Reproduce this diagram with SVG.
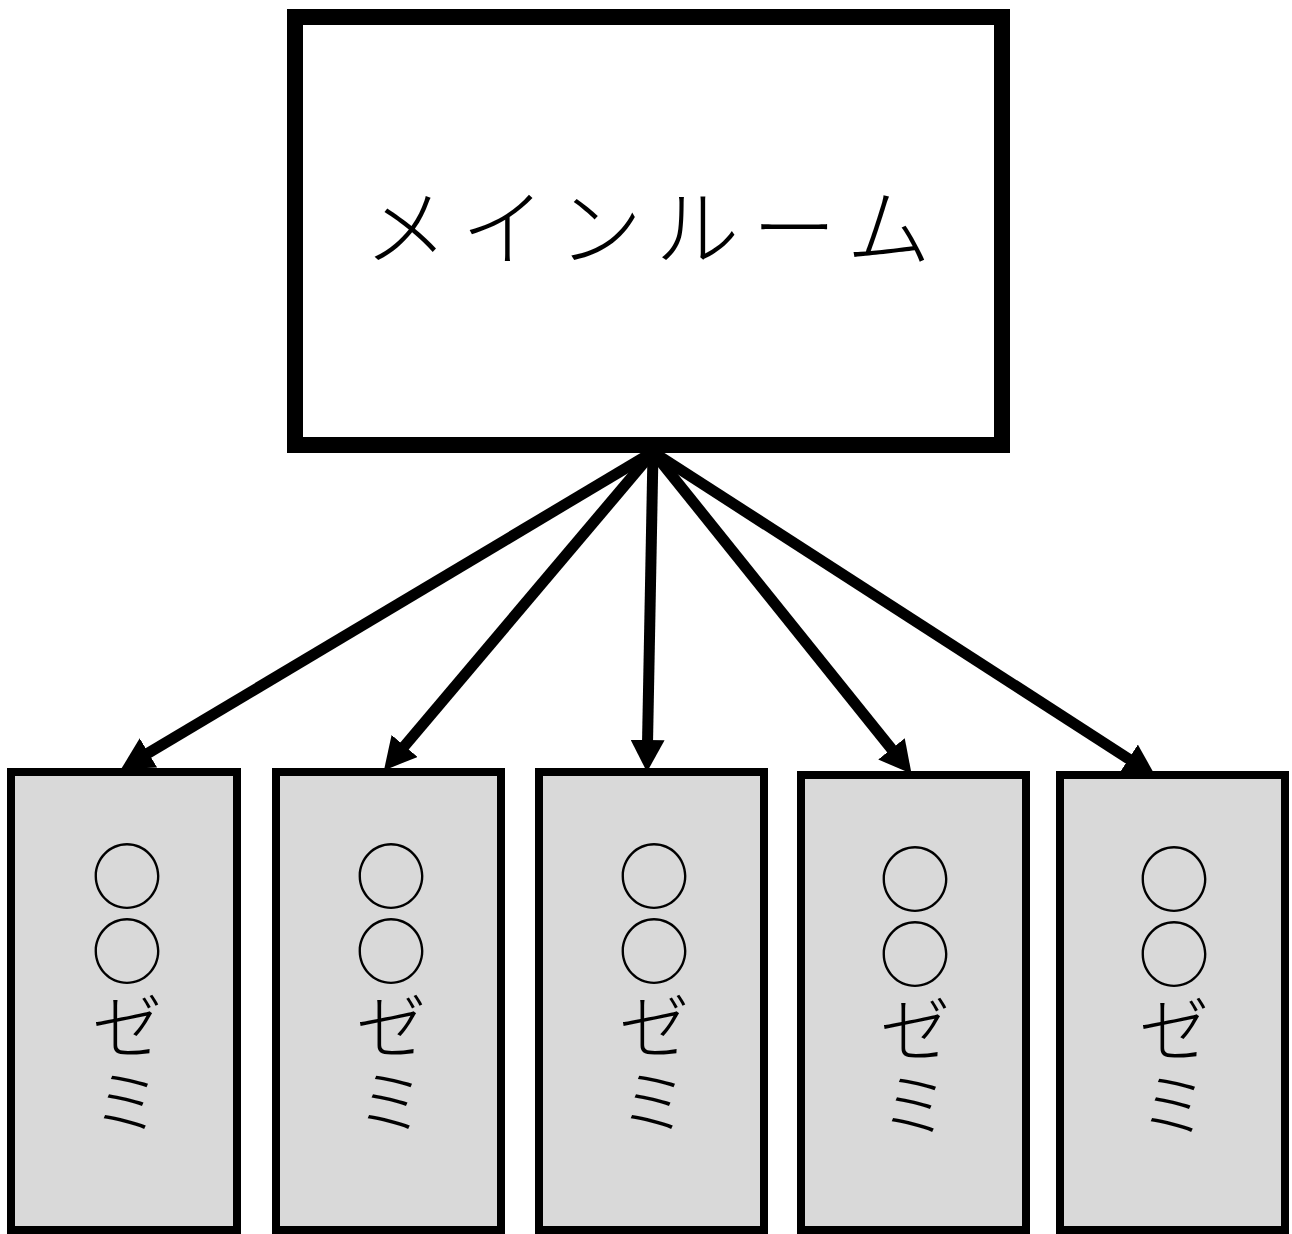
<svg xmlns="http://www.w3.org/2000/svg" width="1292" height="1234" viewBox="0 0 1292 1234">
<style>
.main{fill:#ffffff;stroke:#000;stroke-width:16}
.sub{fill:#d9d9d9;stroke:#000;stroke-width:8}
.conn{stroke:#000;stroke-width:11;fill:none;marker-end:url(#ah)}
.t1{font-family:"Noto Sans CJK JP","Noto Sans CJK SC",sans-serif;font-size:84px;font-weight:300;letter-spacing:13px;fill:#000}
.t2{font-family:"Noto Sans CJK JP","Noto Sans CJK SC",sans-serif;font-size:72px;font-weight:300;letter-spacing:3px;fill:#000;writing-mode:vertical-rl}
</style>
<defs>
<marker id="ah" markerUnits="userSpaceOnUse" markerWidth="34" markerHeight="34" refX="4" refY="17" orient="auto" viewBox="0 0 34 34">
<path d="M0,0 L32,17 L0,34 z" fill="#000"/>
</marker>
</defs>
<rect width="1292" height="1234" fill="#fff"/>
<g id="main-room">
<rect class="main" x="295" y="17" width="707" height="428"/>
<text class="t1" x="654" y="222" text-anchor="middle" dominant-baseline="central">メインルーム</text>
</g>
<g id="zemi1">
<rect class="sub" x="11" y="772" width="226" height="458"/>
<text class="t2" x="127" y="840">○○ゼミ</text>
</g>
<g id="zemi2">
<rect class="sub" x="276" y="772" width="225" height="458"/>
<text class="t2" x="391" y="840">○○ゼミ</text>
</g>
<g id="zemi3">
<rect class="sub" x="539" y="772" width="225" height="458"/>
<text class="t2" x="654" y="840">○○ゼミ</text>
</g>
<g id="zemi4">
<rect class="sub" x="801" y="775" width="225" height="455"/>
<text class="t2" x="915" y="843">○○ゼミ</text>
</g>
<g id="zemi5">
<rect class="sub" x="1060" y="775" width="225" height="455"/>
<text class="t2" x="1174" y="843">○○ゼミ</text>
</g>
<g id="connectors">
<line class="conn" x1="653" y1="452" x2="145" y2="755"/>
<line class="conn" x1="653" y1="452" x2="402" y2="749"/>
<line class="conn" x1="653" y1="452" x2="647.5" y2="744"/>
<line class="conn" x1="653" y1="452" x2="894" y2="752"/>
<line class="conn" x1="653" y1="452" x2="1132" y2="761"/>
</g>
</svg>
